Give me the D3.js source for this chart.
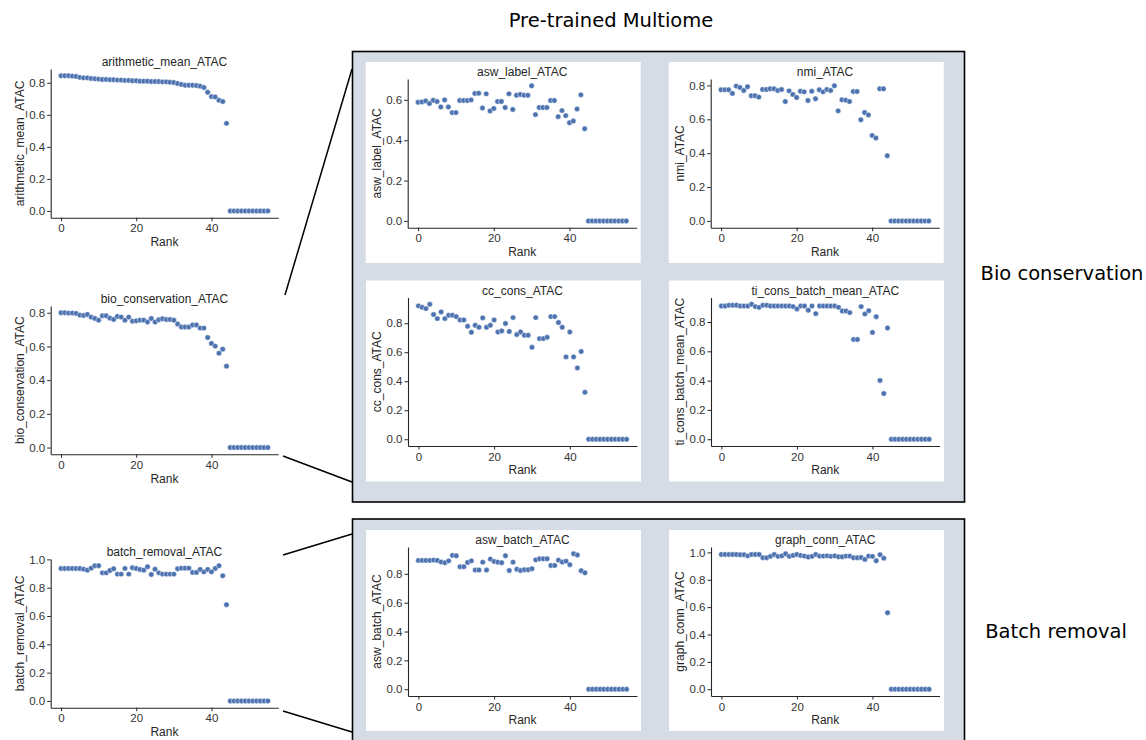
<!DOCTYPE html>
<html><head><meta charset="utf-8">
<script src="https://cdn.jsdelivr.net/npm/d3@7"></script>
<style>body{margin:0;background:#fff}svg{display:block}</style>
</head><body><svg id="c" width="1146" height="740"></svg>
<script>
// ---------- DATA ----------
const ranks = [0,1,2,3,4,5,6,7,8,9,10,11,12,13,14,15,16,17,18,19,20,21,22,23,24,25,26,27,28,29,30,31,32,33,34,35,36,37,38,39,40,41,42,43,44,45,46,47,48,49,50,51,52,53,54,55];
const xTickLabels = [0, 20, 40];

const arithmetic_mean_ATAC = [0.844,0.844,0.844,0.842,0.840,0.834,0.831,0.831,0.827,0.825,0.823,0.821,0.821,0.819,0.819,0.817,0.817,0.815,0.815,0.813,0.813,0.810,0.810,0.810,0.808,0.808,0.808,0.806,0.806,0.804,0.802,0.796,0.790,0.785,0.785,0.785,0.783,0.779,0.771,0.741,0.714,0.712,0.691,0.683,0.547,0,0,0,0,0,0,0,0,0,0,0];
const bio_conservation_ATAC = [0.800,0.800,0.798,0.798,0.796,0.786,0.784,0.790,0.774,0.766,0.756,0.782,0.782,0.768,0.760,0.778,0.774,0.756,0.774,0.750,0.752,0.756,0.756,0.745,0.766,0.745,0.758,0.764,0.760,0.760,0.756,0.733,0.715,0.715,0.715,0.727,0.727,0.709,0.709,0.653,0.618,0.602,0.560,0.584,0.483,0,0,0,0,0,0,0,0,0,0,0];
const batch_removal_ATAC = [0.936,0.936,0.936,0.936,0.936,0.936,0.931,0.924,0.938,0.955,0.955,0.905,0.905,0.922,0.934,0.896,0.896,0.936,0.896,0.941,0.936,0.929,0.924,0.948,0.893,0.931,0.905,0.896,0.896,0.896,0.896,0.934,0.938,0.938,0.938,0.908,0.908,0.929,0.912,0.929,0.912,0.936,0.955,0.884,0.680,0,0,0,0,0,0,0,0,0,0,0];
const asw_label_ATAC = [0.588,0.590,0.595,0.582,0.598,0.592,0.565,0.600,0.565,0.537,0.537,0.597,0.597,0.597,0.600,0.632,0.633,0.560,0.630,0.545,0.557,0.592,0.592,0.562,0.630,0.552,0.623,0.627,0.623,0.623,0.670,0.527,0.562,0.562,0.562,0.597,0.597,0.517,0.547,0.522,0.487,0.495,0.555,0.625,0.457,0,0,0,0,0,0,0,0,0,0,0];
const nmi_ATAC = [0.774,0.774,0.774,0.753,0.796,0.788,0.770,0.792,0.739,0.739,0.731,0.776,0.776,0.780,0.780,0.770,0.776,0.705,0.768,0.747,0.729,0.766,0.762,0.711,0.766,0.721,0.774,0.762,0.776,0.770,0.798,0.650,0.715,0.713,0.705,0.764,0.764,0.597,0.640,0.626,0.504,0.490,0.780,0.780,0.385,0,0,0,0,0,0,0,0,0,0,0];
const cc_cons_ATAC = [0.920,0.910,0.901,0.931,0.860,0.832,0.878,0.832,0.855,0.855,0.846,0.823,0.823,0.779,0.738,0.786,0.772,0.837,0.772,0.786,0.823,0.740,0.747,0.798,0.743,0.839,0.722,0.740,0.717,0.717,0.634,0.839,0.694,0.694,0.703,0.846,0.846,0.805,0.772,0.568,0.740,0.568,0.492,0.605,0.324,0,0,0,0,0,0,0,0,0,0,0];
const ti_cons_batch_mean_ATAC = [0.909,0.909,0.914,0.914,0.914,0.909,0.909,0.909,0.921,0.905,0.900,0.914,0.914,0.909,0.909,0.909,0.909,0.909,0.909,0.905,0.889,0.909,0.909,0.880,0.909,0.857,0.909,0.909,0.909,0.909,0.909,0.900,0.875,0.875,0.864,0.681,0.681,0.905,0.855,0.877,0.729,0.836,0.401,0.312,0.759,0,0,0,0,0,0,0,0,0,0,0];
const asw_batch_ATAC = [0.893,0.893,0.893,0.893,0.895,0.893,0.882,0.877,0.890,0.928,0.925,0.849,0.849,0.879,0.890,0.826,0.826,0.881,0.826,0.902,0.886,0.881,0.877,0.925,0.823,0.881,0.832,0.823,0.828,0.828,0.835,0.897,0.904,0.904,0.904,0.858,0.858,0.895,0.882,0.888,0.863,0.939,0.930,0.821,0.807,0,0,0,0,0,0,0,0,0,0,0];
const graph_conn_ATAC = [0.985,0.985,0.985,0.985,0.985,0.983,0.983,0.975,0.985,0.985,0.985,0.961,0.961,0.971,0.985,0.971,0.975,0.990,0.971,0.978,0.985,0.978,0.973,0.966,0.971,0.985,0.973,0.973,0.975,0.971,0.975,0.968,0.968,0.973,0.973,0.961,0.961,0.963,0.949,0.973,0.971,0.939,0.983,0.958,0.559,0,0,0,0,0,0,0,0,0,0,0];

const yTicks08 = [0.0, 0.2, 0.4, 0.6, 0.8];
const yTicks10 = [0.0, 0.2, 0.4, 0.6, 0.8, 1.0];
const yTicks06 = [0.0, 0.2, 0.4, 0.6];

const figureTitle = "Pre-trained Multiome";
const groupLabels = ["Bio conservation", "Batch removal"];
const xLabel = "Rank";

// ---------- LAYOUT ----------
const svg = d3.select("#c");
const INK = "#262626";
const DOT = "#4c72b0";
const BOXFILL = "#d5dce6";
const FONT = "'Liberation Sans', Arial, Helvetica, sans-serif";
const OUTER_FONT = "'DejaVu Sans', sans-serif";

// grey boxes
svg.append("rect").attr("x", 352.5).attr("y", 51.5).attr("width", 612).attr("height", 450.5)
  .attr("fill", BOXFILL).attr("stroke", "#000").attr("stroke-width", 1.6);
svg.append("rect").attr("x", 352.5).attr("y", 519).attr("width", 612).attr("height", 240)
  .attr("fill", BOXFILL).attr("stroke", "#000").attr("stroke-width", 1.6);

// connector lines
const connectors = [[285, 295, 352, 69], [283, 456, 352, 482], [283, 555, 352, 534], [283, 711, 352, 732]];
svg.selectAll("line.conn").data(connectors).enter().append("line").attr("class", "conn")
  .attr("x1", d => d[0]).attr("y1", d => d[1]).attr("x2", d => d[2]).attr("y2", d => d[3])
  .attr("stroke", "#000").attr("stroke-width", 1.5);

// outer texts
svg.append("text").attr("x", 611).attr("y", 27).attr("text-anchor", "middle")
  .attr("font-family", OUTER_FONT).attr("font-size", 19.5).attr("fill", "#000").text(figureTitle);
svg.append("text").attr("x", 1062).attr("y", 280).attr("text-anchor", "middle")
  .attr("font-family", OUTER_FONT).attr("font-size", 19.5).attr("fill", "#000").text(groupLabels[0]);
svg.append("text").attr("x", 1056).attr("y", 638).attr("text-anchor", "middle")
  .attr("font-family", OUTER_FONT).attr("font-size", 19.5).attr("fill", "#000").text(groupLabels[1]);

const panels = [
  {name: "arithmetic_mean_ATAC", values: arithmetic_mean_ATAC, yTicks: yTicks08, left: 50.7, top: 69, bottom: 217.7, width: 227.5, bg: false},
  {name: "bio_conservation_ATAC", values: bio_conservation_ATAC, yTicks: yTicks08, left: 50.7, top: 306, bottom: 454.3, width: 227.5, bg: false},
  {name: "batch_removal_ATAC", values: batch_removal_ATAC, yTicks: yTicks10, left: 50.7, top: 559, bottom: 707.7, width: 227.5, bg: false},
  {name: "asw_label_ATAC", values: asw_label_ATAC, yTicks: yTicks06, left: 407.7, top: 79, bottom: 227.7, width: 229, bg: true},
  {name: "nmi_ATAC", values: nmi_ATAC, yTicks: yTicks08, left: 710.7, top: 79, bottom: 227.7, width: 228.5, bg: true},
  {name: "cc_cons_ATAC", values: cc_cons_ATAC, yTicks: yTicks08, left: 408, top: 297.5, bottom: 446, width: 229, bg: true},
  {name: "ti_cons_batch_mean_ATAC", values: ti_cons_batch_mean_ATAC, yTicks: yTicks08, left: 711, top: 297.5, bottom: 446, width: 228.5, bg: true},
  {name: "asw_batch_ATAC", values: asw_batch_ATAC, yTicks: yTicks08, left: 408, top: 547, bottom: 696, width: 229, bg: true},
  {name: "graph_conn_ATAC", values: graph_conn_ATAC, yTicks: yTicks10, left: 711, top: 547, bottom: 696, width: 228.5, bg: true}
];

function drawPanel(p) {
  const g = svg.append("g");
  if (p.bg) {
    g.append("rect").attr("x", p.left - 42).attr("y", p.top - 17)
      .attr("width", 275).attr("height", 201).attr("fill", "#fff");
  }
  const n = ranks.length - 1;
  const x = d3.scaleLinear().domain([-0.05 * n, n * 1.05]).range([p.left, p.left + p.width]);
  const vmin = d3.min(p.values), vmax = d3.max(p.values);
  const pad = (vmax - vmin) * 0.05;
  const y = d3.scaleLinear().domain([vmin - pad, vmax + pad]).range([p.bottom, p.top]);

  const xa = g.append("g").attr("transform", `translate(0,${p.bottom})`)
    .call(d3.axisBottom(x).tickValues(xTickLabels).tickFormat(d3.format("d")).tickSize(3.5).tickSizeOuter(0).tickPadding(3));
  const ya = g.append("g").attr("transform", `translate(${p.left},0)`)
    .call(d3.axisLeft(y).tickValues(p.yTicks).tickFormat(d3.format(".1f")).tickSize(3.5).tickSizeOuter(0).tickPadding(2));
  [xa, ya].forEach(a => {
    a.attr("font-family", FONT).attr("font-size", 11.5).attr("color", INK);
    a.select(".domain").attr("stroke-width", 1.1);
    a.selectAll(".tick line").attr("stroke-width", 1);
    a.selectAll(".tick text").attr("fill", "#333");
  });

  // title
  g.append("text").attr("x", p.left + p.width / 2).attr("y", p.top - 3).attr("text-anchor", "middle")
    .attr("font-family", FONT).attr("font-size", 12).attr("fill", INK).text(p.name);
  // x label
  g.append("text").attr("x", p.left + p.width / 2).attr("y", p.bottom + 28.3).attr("text-anchor", "middle")
    .attr("font-family", FONT).attr("font-size", 12).attr("fill", INK).text(xLabel);
  // y label
  const yl = p.left - 27, yc = (p.top + p.bottom) / 2;
  g.append("text").attr("transform", `translate(${yl},${yc}) rotate(-90)`).attr("text-anchor", "middle")
    .attr("font-family", FONT).attr("font-size", 12).attr("fill", INK).text(p.name);

  // points
  g.append("g").selectAll("circle").data(p.values).enter().append("circle")
    .attr("cx", (d, i) => x(ranks[i])).attr("cy", d => y(d)).attr("r", 2.7)
    .attr("fill", DOT).attr("stroke", "#fff").attr("stroke-width", 0.45);
}
panels.forEach(drawPanel);
</script>
</body></html>
